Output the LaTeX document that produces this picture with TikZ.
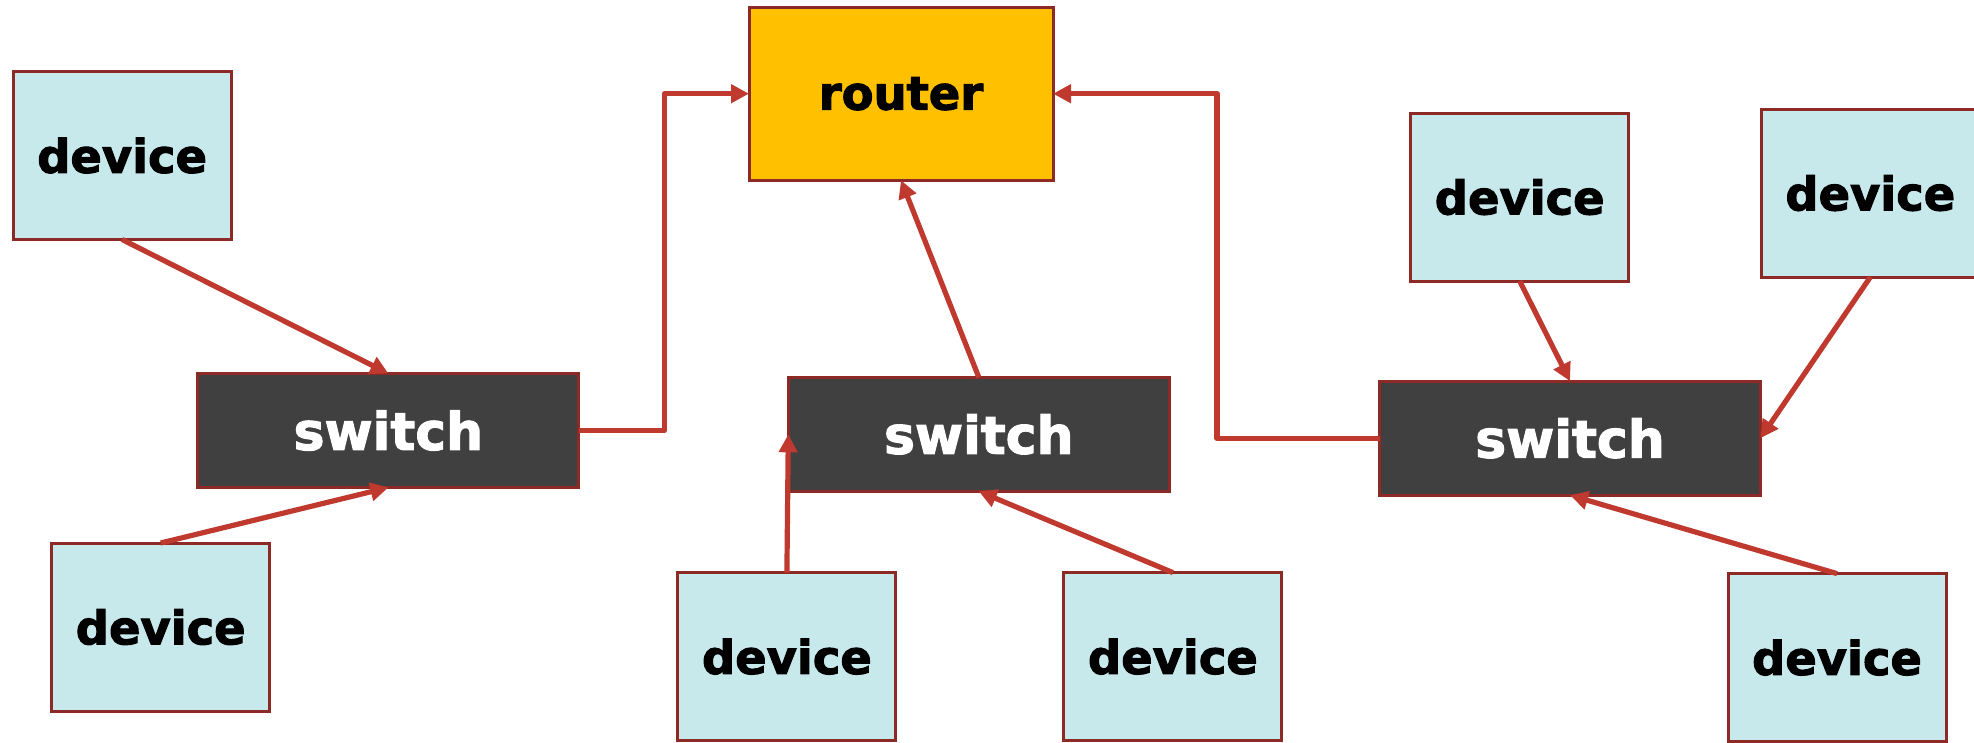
\documentclass[tikz,border=0pt]{standalone}
\usepackage{fontspec}
\usetikzlibrary{arrows.meta}
\newfontfamily\heavyfont{DejaVu Sans Bold}[FakeBold=2.2]
\definecolor{devfill}{HTML}{C8E9EC}
\definecolor{swfill}{HTML}{404040}
\definecolor{rtfill}{HTML}{FFC000}
\definecolor{boxline}{HTML}{8E2A26}
\definecolor{wire}{HTML}{C0392F}
\tikzset{
  box/.style={draw=boxline, line width=3pt, inner sep=0pt, outer sep=0pt},
  devbox/.style={box, fill=devfill, minimum width=218pt, minimum height=168pt,
    font=\heavyfont\fontsize{46.4}{50}\selectfont, text=black},
  swbox/.style={box, fill=swfill, minimum width=381pt, minimum height=114pt,
    font=\heavyfont\fontsize{52}{56}\selectfont, text=white},
  rtbox/.style={box, fill=rtfill, minimum width=304pt, minimum height=173pt,
    font=\heavyfont\fontsize{46.4}{50}\selectfont, text=black},
  link/.style={draw=wire, line width=5.2pt, line join=round,
    -{Triangle[length=18pt,width=18pt]}}
}
\begin{document}
\begin{tikzpicture}[x=1pt, y=-1pt]
  \useasboundingbox (0,0) rectangle (1974,742);
  \clip (0,0) rectangle (1974,742);

  % core router
  \node[rtbox] (router) at (901,93.7) {router};

  % switches
  \node[swbox] (swL) at (388.4,430.5) {switch};
  \node[swbox] (swM) at (978.8,434.3) {switch};
  \node[swbox] (swR) at (1570,438.2) {switch};

  % end devices
  \node[devbox] (dTL)  at (122.1,155.5) {device};
  \node[devbox] (dBL)  at (160.7,627)   {device};
  \node[devbox] (dBM1) at (786.9,656.6) {device};
  \node[devbox] (dBM2) at (1172.9,656.6) {device};
  \node[devbox] (dTR1) at (1519.7,197.1) {device};
  \node[devbox] (dTR2) at (1870.3,193.1) {device};
  \node[devbox] (dBR)  at (1837,657.6)  {device};

  % uplinks from switches to the router
  \draw[link] (swL.east) -- ([xshift=85.6pt]swL.east) |- (router.west);
  \draw[link] (swM.north) -- (router.south);
  \draw[link] (swR.west) -- ([xshift=-162.5pt]swR.west) |- (router.east);

  % device links
  \draw[link] (dTL.south) -- (swL.north);
  \draw[link] (dBL.north) -- (swL.south);
  \draw[link] (dBM1.north) -- (swM.west);
  \draw[link] (dBM2.north) -- (swM.south);
  \draw[link] (dTR1.south) -- (swR.north);
  \draw[link] (dTR2.south) -- (swR.east);
  \draw[link] (dBR.north) -- (swR.south);
\end{tikzpicture}
\end{document}
